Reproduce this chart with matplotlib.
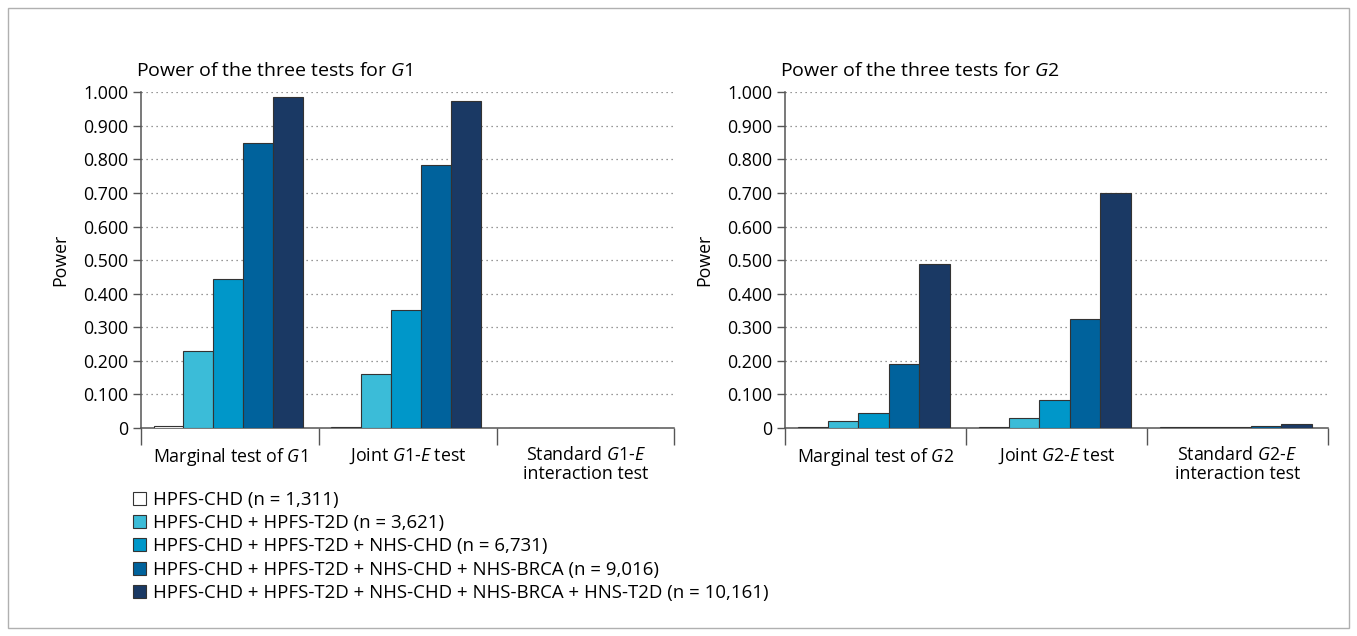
import numpy as np
import matplotlib.pyplot as plt
from matplotlib.patches import Patch, Rectangle

plt.rcParams['font.family'] = ['Open Sans', 'DejaVu Sans']
plt.rcParams['mathtext.fontset'] = 'custom'
plt.rcParams['mathtext.rm'] = 'Open Sans'
plt.rcParams['mathtext.it'] = 'Open Sans:italic'

series_labels = [
    'HPFS-CHD (n = 1,311)',
    'HPFS-CHD + HPFS-T2D (n = 3,621)',
    'HPFS-CHD + HPFS-T2D + NHS-CHD (n = 6,731)',
    'HPFS-CHD + HPFS-T2D + NHS-CHD + NHS-BRCA (n = 9,016)',
    'HPFS-CHD + HPFS-T2D + NHS-CHD + NHS-BRCA + HNS-T2D (n = 10,161)',
]
colors = ['#ffffff', '#3bbcd8', '#0097c9', '#00629c', '#1a3964']

cats_g1 = ['Marginal test of $\\mathit{G1}$', 'Joint $\\mathit{G1}$-$\\mathit{E}$ test',
           'Standard $\\mathit{G1}$-$\\mathit{E}$\ninteraction test']
cats_g2 = ['Marginal test of $\\mathit{G2}$', 'Joint $\\mathit{G2}$-$\\mathit{E}$ test',
           'Standard $\\mathit{G2}$-$\\mathit{E}$\ninteraction test']

# rows = sample sets, columns = tests
power_g1 = np.array([
    [0.007, 0.004, 0.000],
    [0.228, 0.161, 0.000],
    [0.444, 0.350, 0.000],
    [0.850, 0.783, 0.000],
    [0.985, 0.975, 0.000],
])
power_g2 = np.array([
    [0.003, 0.003, 0.002],
    [0.020, 0.030, 0.002],
    [0.044, 0.084, 0.003],
    [0.190, 0.325, 0.005],
    [0.488, 0.700, 0.011],
])

yticks = np.arange(0, 1.01, 0.1)
ytick_labels = ['0'] + ['%.3f' % v for v in yticks[1:]]

fig = plt.figure(figsize=(13.57, 6.36), dpi=100)
fig.patches.append(Rectangle((0.006, 0.012), 0.988, 0.976, transform=fig.transFigure,
                             fill=False, edgecolor='#b0b0b0', linewidth=1))

axes_pos = [[0.104, 0.327, 0.393, 0.528], [0.5785, 0.327, 0.400, 0.528]]
titles = ['Power of the three tests for $\\mathit{G}$1', 'Power of the three tests for $\\mathit{G}$2']
grey = '#555555'
w = 0.168
fs = 12.8

for pos, data, cats, title in zip(axes_pos, [power_g1, power_g2], [cats_g1, cats_g2], titles):
    ax = fig.add_axes(pos)
    x = np.arange(3)
    for i in range(5):
        ax.bar(x + (i - 2) * w - 0.01, data[i], width=w, color=colors[i],
               edgecolor='#333333', linewidth=0.8, zorder=3)
    ax.set_xlim(-0.5, 2.5)
    ax.set_ylim(0, 1.0)
    ax.set_yticks(yticks)
    ax.set_yticklabels(ytick_labels)
    for v in yticks[1:]:
        ax.axhline(v, color='#777777', linestyle=(0, (1, 3)), linewidth=0.9, zorder=1)
    ax.set_xticks([-0.5, 0.5, 1.5, 2.5])
    ax.set_xticklabels([])
    ax.set_xticks(x, minor=True)
    ax.set_xticklabels(cats, minor=True, fontsize=fs, linespacing=1.05)
    ax.tick_params(axis='x', which='major', length=12, width=1, color=grey, direction='out')
    ax.tick_params(axis='x', which='minor', length=0, pad=13)
    ax.tick_params(axis='y', length=6, width=1, color=grey, labelsize=fs, pad=3)
    for s in ['top', 'right']:
        ax.spines[s].set_visible(False)
    for s in ['left', 'bottom']:
        ax.spines[s].set_color(grey)
        ax.spines[s].set_linewidth(1.1)
    ax.set_ylabel('Power', fontsize=fs, labelpad=10)
    ax.set_title(title, loc='left', fontsize=14, x=-0.01, pad=12)

handles = [Patch(facecolor=c, edgecolor='#333333', linewidth=0.8) for c in colors]
fig.legend(handles, series_labels, loc='upper left', bbox_to_anchor=(0.098, 0.228),
           frameon=False, fontsize=13.4, handlelength=0.7, handleheight=0.7,
           handletextpad=0.4, labelspacing=0.28, borderaxespad=0, borderpad=0)

fig.savefig('out.png', dpi=100)
